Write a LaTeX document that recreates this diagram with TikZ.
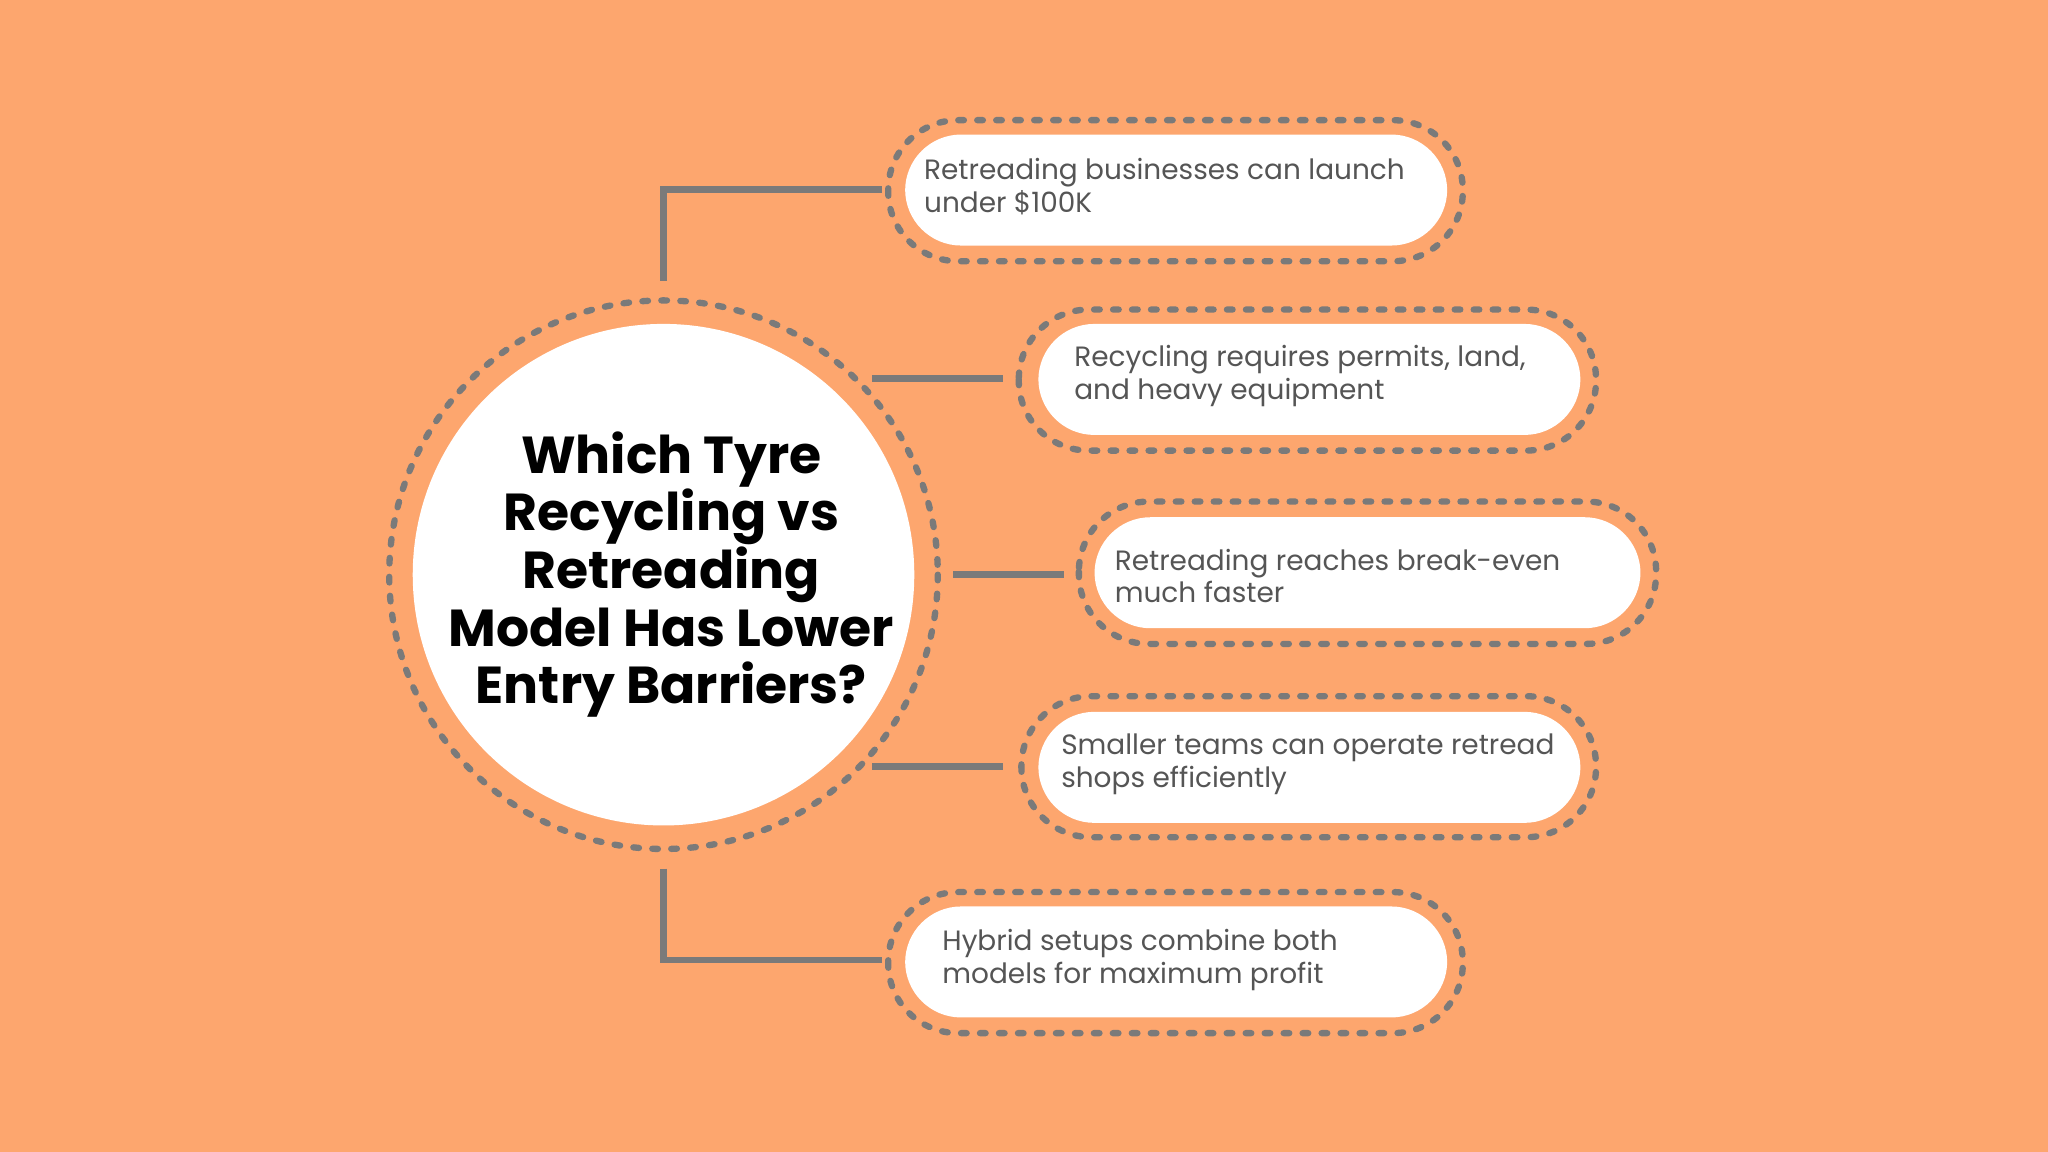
\documentclass[tikz,border=0pt]{standalone}
\usepackage{fontspec}
\setmainfont{Poppins}
\usetikzlibrary{positioning}
\definecolor{bgorange}{HTML}{FDA66E}
\definecolor{dashgray}{HTML}{7A7A7A}
\definecolor{txtgray}{HTML}{555555}
\begin{document}
\begin{tikzpicture}
    [
        x=0.013061cm, y=-0.013061cm,
        dot_ring/.style={draw=dashgray, line width=1.8pt, line cap=round, dash pattern=on 1.6pt off 3.8pt},
        pill_out/.style={dot_ring, rounded corners=0.70cm},
        pill_in/.style={fill=white, rounded corners=0.56cm},
        pill_text/.style={anchor=west, align=left, inner sep=0pt, text=txtgray, font=\fontsize{7.95}{9.3}\selectfont},
        link/.style={draw=dashgray, line width=1.9pt},
    ]
        \fill[bgorange] (0,0) rectangle (1568,882);
        % centre circle
        \draw[dot_ring] (508,440) circle (210);
        \node[circle, fill=white, minimum size=384*0.013061cm, inner sep=0pt] (hub) at (508,440) {};
        \node[align=center, font=\fontsize{14.8}{16.4}\selectfont\bfseries] (title) at (514,440)
            {Which Tyre\\Recycling vs\\Retreading\\Model Has Lower\\Entry Barriers?};
        % pills
        \draw[pill_out] (680,92) rectangle (1120,200);
        \fill[pill_in] (693,103) rectangle (1108,188);
        \node[pill_text] (p1) at (707,143) {Retreading businesses can launch\\under \$100K};
        \draw[pill_out] (780,237) rectangle (1222,345);
        \fill[pill_in] (795,248) rectangle (1210,333);
        \node[pill_text] (p2) at (822,288) {Recycling requires permits, land,\\and heavy equipment};
        \draw[pill_out] (826,384) rectangle (1268,493);
        \fill[pill_in] (838,396) rectangle (1256,481);
        \node[pill_text] (p3) at (853,441) {Retreading reaches break-even\\much faster};
        \draw[pill_out] (782,533) rectangle (1222,641);
        \fill[pill_in] (795,545) rectangle (1210,630);
        \node[pill_text] (p4) at (812,585) {Smaller teams can operate retread\\shops efficiently};
        \draw[pill_out] (680,683) rectangle (1120,791);
        \fill[pill_in] (693,694) rectangle (1108,779);
        \node[pill_text] (p5) at (721,735) {Hybrid setups combine both\\models for maximum profit};
        % connectors
        \coordinate (c1a) at (508,215); \coordinate (c1b) at (675,145);
        \coordinate (c5a) at (508,665); \coordinate (c5b) at (675,735);
        \draw[link] (c1a) |- (c1b);
        \draw[link] (c5a) |- (c5b);
        \draw[link] (668,290) -- (768,290);
        \draw[link] (730,440) -- (815,440);
        \draw[link] (668,587) -- (768,587);
\end{tikzpicture}
\end{document}
